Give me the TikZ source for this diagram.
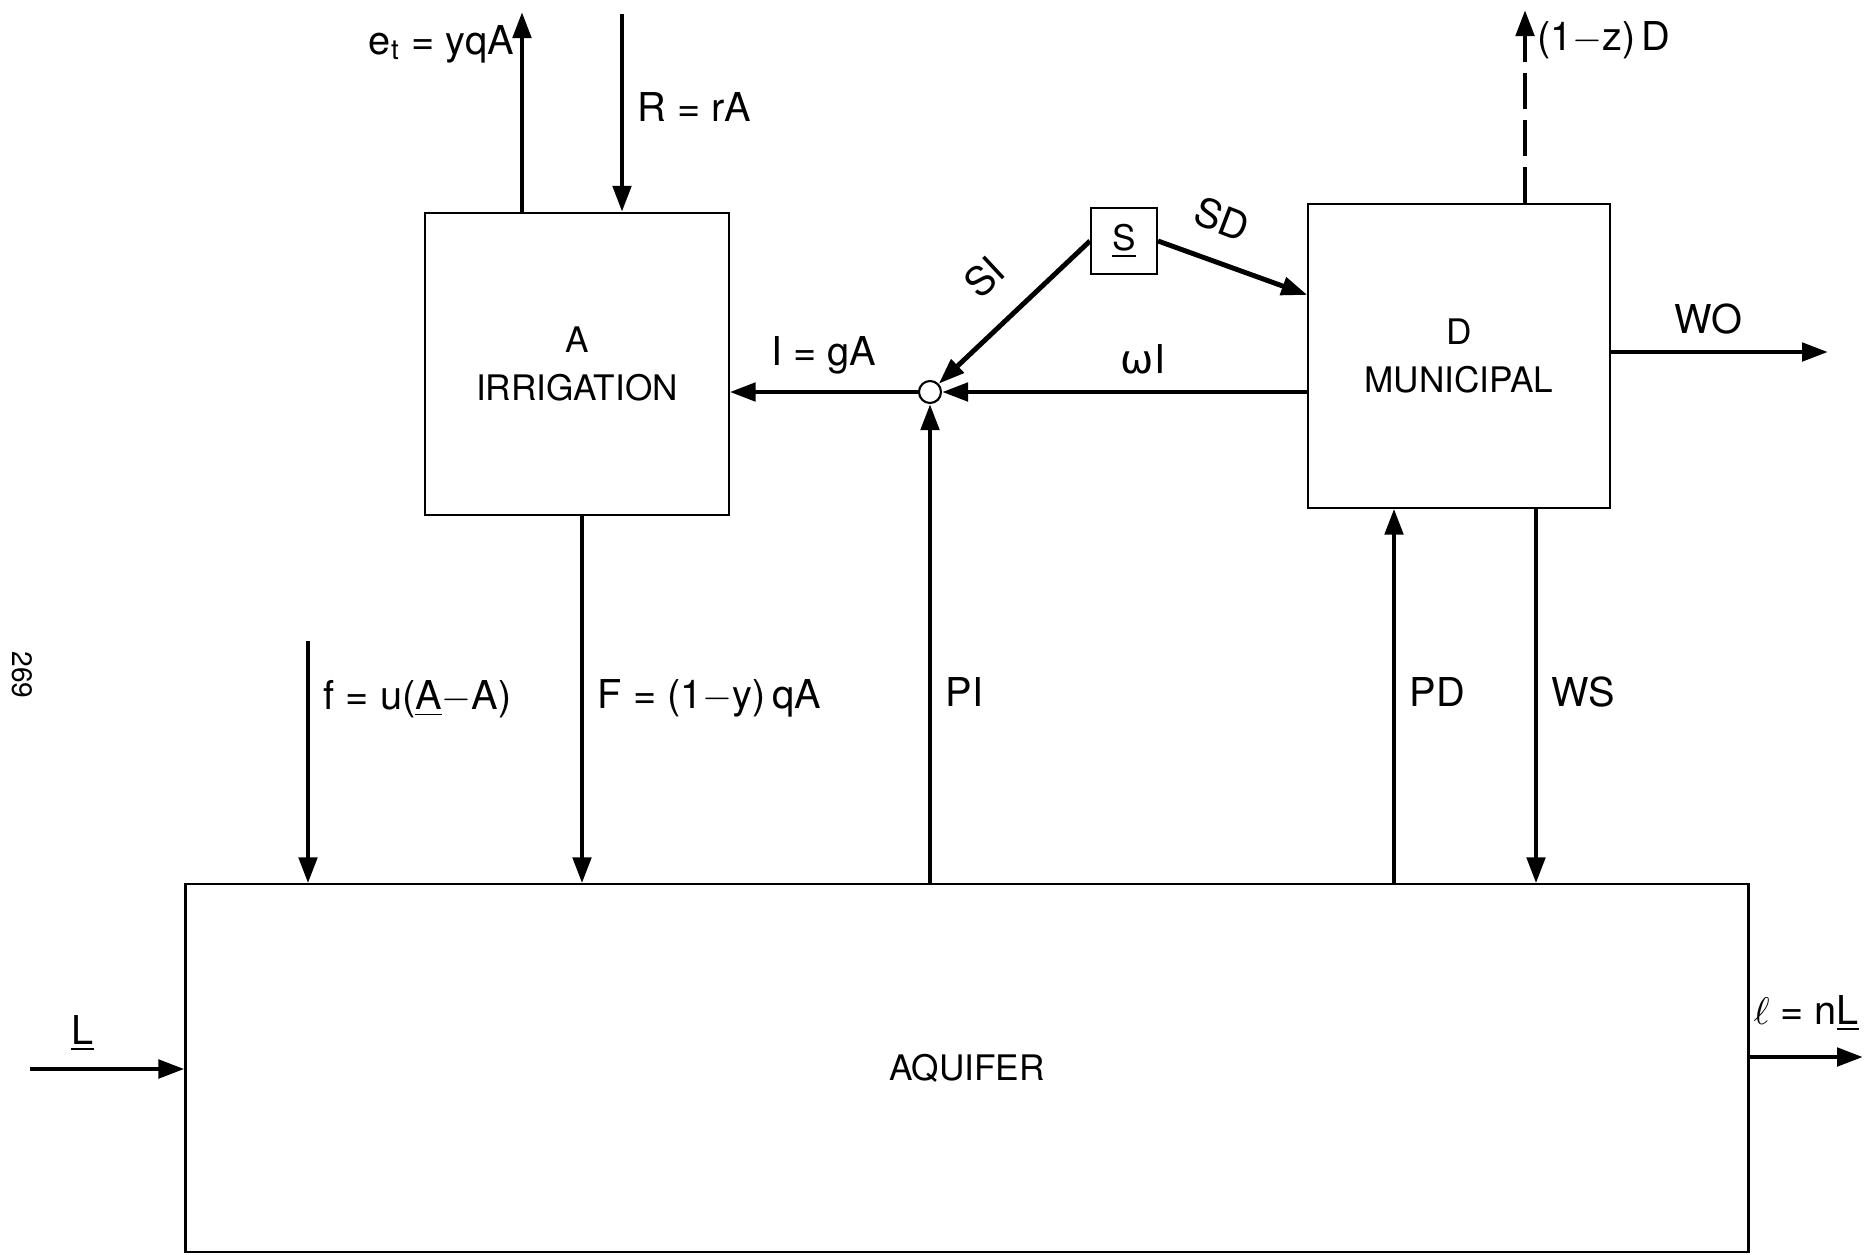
\documentclass[tikz,border=0pt]{standalone}
\usepackage{fontspec}
\setmainfont{TeX Gyre Heros}
\newfontfamily\grk{DejaVu Sans}
\usetikzlibrary{arrows.meta,positioning,calc}
\tikzset{
  box/.style={draw, rectangle, line width=0.6pt, align=center, font=\fontsize{10}{13.5}\selectfont},
  junc/.style={draw, circle, fill=white, line width=0.6pt, minimum size=2.2mm, inner sep=0pt},
  arr/.style={-{Triangle[length=2.6mm, width=1.8mm]}, line width=1.4pt},
  darr/.style={arr, dash pattern=on 3.6mm off 1.1mm},
  lbl/.style={font=\fontsize{11.3}{13}\selectfont, inner sep=1.5pt}
}
\begin{document}
\begin{tikzpicture}[x=0.01cm, y=-0.01cm]
\useasboundingbox (0,0) rectangle (1873,1254);
% blocks
\node[box, minimum width=3.03cm, minimum height=3.02cm] (irr) at (577,364) {A\\IRRIGATION};
\node[box, minimum width=3.01cm, minimum height=3.03cm] (mun) at (1459,356) {D\\MUNICIPAL};
\node[box, minimum size=6.6mm, inner sep=0pt] (stor) at (1124,241) {\underline{S}};
\node[box, minimum width=15.62cm, minimum height=3.67cm] (aqu) at (967,1068) {AQUIFER};
\node[junc] (jn) at (930,392) {};
\node[lbl, rotate=-90, font=\fontsize{8}{9}\selectfont] (pg) at (22,675) {269};
% free ends
\coordinate (et) at (522,12);
\coordinate (rt) at (622,14);
\coordinate (zd) at (1525,10);
\coordinate (wo) at (1828,352);
\coordinate (ft) at (308,641);
\coordinate (lin) at (30,1069);
\coordinate (lout) at (1863,1057);
\coordinate (fx) at (582,0);
\coordinate (pdx) at (1394,0);
\coordinate (wsx) at (1536,0);
% irrigation
\draw[arr] (et |- irr.north) -- (et) node[lbl, pos=0.84, left] {e\textsubscript{t} = yqA};
\draw[arr] (rt) -- (rt |- irr.north) node[lbl, pos=0.47, right=0.8mm] {R = rA};
\draw[arr] (jn) -- (jn -| irr.east) node[lbl, midway, above=1mm] {I = gA};
\draw[arr] (fx |- irr.south) -- (fx |- aqu.north) node[lbl, pos=0.495, right=0.8mm] {F = (1$-$y)\,qA};
\draw[arr] (ft) -- (ft |- aqu.north) node[lbl, pos=0.24, right=0.8mm] {f = u(\underline{A}$-$A)};
% surface supply
\draw[arr] (stor.west) -- (jn);
\node[lbl, rotate=43, inner sep=0pt] (si) at (984,277) {SI};
\draw[arr] (stor.east) -- ($(mun.north west)!0.3!(mun.south west)$);
\node[lbl, rotate=-21, inner sep=0pt] (sd) at (1222,219) {SD};
\draw[arr] (mun.west |- jn) -- (jn) node[lbl, pos=0.45, above=1mm] {{\grk ω}I};
% municipal
\draw[darr] (mun.north -| zd) -- (zd);
\node[lbl, anchor=west] (zdl) at (1531,40) {(1$-$z)\,D};
\draw[arr] (mun.east |- wo) -- (wo) node[lbl, pos=0.45, above=1mm] {WO};
% aquifer
\draw[arr] (jn |- aqu.north) -- (jn.south) node[lbl, pos=0.4, right=0.8mm] {PI};
\draw[arr] (pdx |- aqu.north) -- (pdx |- mun.south) node[lbl, pos=0.51, right=0.8mm] {PD};
\draw[arr] (wsx |- mun.south) -- (wsx |- aqu.north) node[lbl, pos=0.49, right=0.8mm] {WS};
\draw[arr] (lin) -- (lin -| aqu.west) node[lbl, pos=0.34, above=1mm] {\underline{L}};
\draw[arr] (lout -| aqu.east) -- (lout) node[lbl, midway, above=1.8mm] {$\ell$ = n\underline{L}};
\end{tikzpicture}
\end{document}
